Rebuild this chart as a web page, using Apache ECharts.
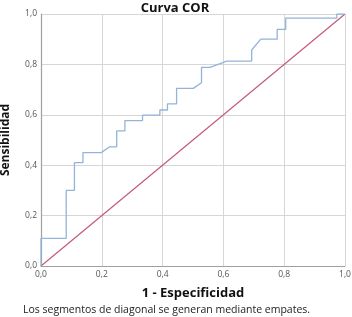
<!DOCTYPE html>
<html>
<head>
<meta charset="utf-8">
<script src="https://cdn.jsdelivr.net/npm/echarts@6/dist/echarts.min.js"></script>
<style>
  html, body { margin: 0; padding: 0; background: #fff; }
  #chart { width: 352px; height: 317px; }
</style>
</head>
<body>
<div id="chart"></div>
<script>
// 1 - Especificidad (x) y Sensibilidad (y) de la curva escalonada
const curvaX = [0, 0, 0.083, 0.083, 0.11, 0.11, 0.138, 0.138, 0.198, 0.226, 0.249, 0.249, 0.276, 0.276, 0.334, 0.334, 0.391, 0.391, 0.416, 0.416, 0.446, 0.446, 0.501, 0.528, 0.528, 0.556, 0.611, 0.693, 0.693, 0.723, 0.777, 0.777, 0.805, 0.805, 0.973, 0.973, 1];
const curvaY = [0, 0.11, 0.11, 0.30, 0.30, 0.41, 0.41, 0.45, 0.45, 0.473, 0.473, 0.536, 0.536, 0.577, 0.577, 0.599, 0.599, 0.619, 0.619, 0.643, 0.643, 0.705, 0.705, 0.727, 0.788, 0.788, 0.813, 0.813, 0.857, 0.90, 0.90, 0.939, 0.939, 0.984, 0.984, 1.0, 1.0];
// línea de referencia
const diagonal = [[0, 0], [1, 1]];
const ticks = [0, 0.2, 0.4, 0.6, 0.8, 1.0];

const fuente = '"Open Sans", "Noto Sans", sans-serif';
const etiqueta = (v) => v.toFixed(1).replace('.', ',');

const myChart = echarts.init(document.getElementById('chart'));

const ejeComun = {
  type: 'value',
  min: ticks[0],
  max: ticks[ticks.length - 1],
  interval: 0.2,
  nameLocation: 'middle',
  nameTextStyle: { fontFamily: fuente, fontWeight: 'bold', fontSize: 13, color: '#111' },
  axisLabel: { formatter: etiqueta, fontFamily: fuente, fontSize: 8.5, color: '#555' },
  axisLine: { show: true, onZero: false, lineStyle: { color: '#a0a0a0', width: 1.2 } },
  axisTick: { show: false },
  splitLine: { show: true, lineStyle: { color: '#d6d6d6', width: 1 } },
};

const option = {
  animation: false,
  title: {
    text: 'Curva COR',
    left: 170,
    textAlign: 'center',
    top: -3,
    textStyle: { fontFamily: fuente, fontWeight: 'bold', fontSize: 13, color: '#111' },
  },
  grid: { left: 41, right: 7, top: 14, bottom: 51, outerBoundsMode: 'none', containLabel: false },
  xAxis: Object.assign({}, ejeComun, {
    name: '1 - Especificidad',
    nameGap: 21,
    axisLabel: Object.assign({}, ejeComun.axisLabel, { margin: 4 }),
  }),
  yAxis: Object.assign({}, ejeComun, {
    name: 'Sensibilidad',
    nameGap: 29,
    nameTextStyle: Object.assign({}, ejeComun.nameTextStyle, { fontSize: 12 }),
    axisLabel: Object.assign({}, ejeComun.axisLabel, { margin: 4 }),
  }),
  graphic: [{
    type: 'text',
    left: 23,
    top: 305,
    style: {
      text: 'Los segmentos de diagonal se generan mediante empates.',
      fontFamily: fuente,
      fontSize: 10.5,
      fill: '#222',
    },
  }],
  series: [
    {
      type: 'line',
      data: curvaX.map((x, i) => [x, curvaY[i]]),
      showSymbol: false,
      lineStyle: { color: '#94b3da', width: 1.3 },
      z: 3,
    },
    {
      type: 'line',
      data: diagonal,
      showSymbol: false,
      lineStyle: { color: '#c45a78', width: 1.2 },
      z: 2,
    },
  ],
};

myChart.setOption(option);
</script>
</body>
</html>
